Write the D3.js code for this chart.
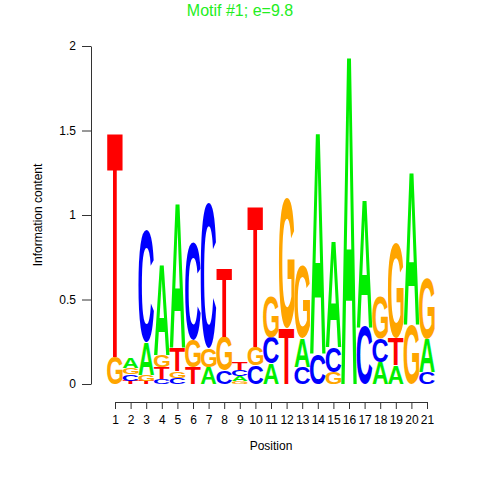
<!DOCTYPE html>
<html>
<head>
<meta charset="utf-8">
<script src="https://cdn.jsdelivr.net/npm/d3@7"></script>
<style>
body { margin: 0; background: #fff; }
</style>
</head>
<body>
<svg id="chart" width="480" height="480"></svg>
<script>
// information content per base at each motif position (bits)
const positions = d3.range(1, 22)
const bitsA = [0, 0.06, 0.195, 0.54, 0.86, 0, 0.10, 0, 0.03, 0, 0.12, 0, 0.17, 1.32, 0.63, 1.96, 0.76, 0.13, 0.11, 0.91, 0.20]
const bitsC = [0, 0.036, 0.66, 0.03, 0.035, 0.58, 0.86, 0.08, 0.04, 0.108, 0.155, 0, 0.10, 0.18, 0.15, 0, 0.34, 0.14, 0, 0, 0.07]
const bitsG = [0.16, 0.04, 0.035, 0.072, 0.04, 0.16, 0.11, 0.20, 0.015, 0.112, 0.24, 0.77, 0.43, 0, 0.07, 0, 0, 0.25, 0.56, 0.35, 0.355]
const bitsT = [1.34, 0.02, 0.02, 0.068, 0.14, 0.10, 0, 0.41, 0.045, 0.84, 0, 0.33, 0, 0, 0, 0, 0, 0, 0.16, 0, 0]
const yTicks = [0, 0.5, 1, 1.5, 2]

const bases = ["A", "C", "G", "T"]
const baseColor = {A: "#00ee00", C: "#0000ff", G: "#ffa500", T: "#ff0000"}
const title = "Motif #1; e=9.8"

const svg = d3.select("#chart")
const font = "'Liberation Sans', Arial, Helvetica, sans-serif"

const x = d3.scaleLinear().domain([1, 21]).range([115, 427])
const y = d3.scaleLinear().domain([0, 2]).range([384, 46])

// measure the ink box of each glyph so it can be stretched to fill its cell
const ctx = document.createElement("canvas").getContext("2d")
ctx.font = "bold 100px 'Liberation Sans'"
const ink = {}
bases.forEach(b => {
    const m = ctx.measureText(b)
    ink[b] = {
        left: m.actualBoundingBoxLeft,
        w: m.actualBoundingBoxLeft + m.actualBoundingBoxRight,
        asc: m.actualBoundingBoxAscent,
        h: m.actualBoundingBoxAscent + m.actualBoundingBoxDescent
    }
})

const series = {A: bitsA, C: bitsC, G: bitsG, T: bitsT}
let letters = []
positions.forEach((p, i) => {
    const col = bases.map(b => ({base: b, bits: series[b][i]}))
        .filter(d => d.bits > 0)
        .sort((a, b) => a.bits - b.bits)
    let acc = 0
    col.forEach(d => {
        letters.push({pos: p, base: d.base, y0: acc, y1: acc + d.bits})
        acc += d.bits
    })
})

svg.append("g").selectAll("text")
    .data(letters)
    .join("text")
    .attr("font-family", font)
    .attr("font-weight", "bold")
    .attr("font-size", 100)
    .attr("fill", d => baseColor[d.base])
    .attr("transform", d => {
        const g = ink[d.base]
        const x0 = x(d.pos - 0.5), w = x(d.pos + 0.5) - x0
        const top = y(d.y1), h = y(d.y0) - top
        return `translate(${x0},${top}) scale(${w / g.w},${h / g.h}) translate(${g.left},${g.asc})`
    })
    .text(d => d.base)

// axes
svg.append("g")
    .attr("transform", "translate(91,0)")
    .call(d3.axisLeft(y).tickValues(yTicks).tickFormat(d => d).tickSize(9).tickSizeOuter(0).tickPadding(6))
svg.append("g")
    .attr("transform", "translate(0,402)")
    .call(d3.axisBottom(x).tickValues(positions).tickSize(7).tickSizeOuter(0).tickPadding(6))

svg.selectAll(".domain, .tick line").attr("stroke", "#333")
svg.selectAll(".tick text").attr("font-family", font).attr("font-size", 12).attr("fill", "#000")

svg.append("text")
    .attr("x", 240).attr("y", 16)
    .attr("text-anchor", "middle")
    .attr("font-family", font).attr("font-size", 16)
    .attr("fill", "#22ee22")
    .text(title)

svg.append("text")
    .attr("x", 271).attr("y", 450)
    .attr("text-anchor", "middle")
    .attr("font-family", font).attr("font-size", 12)
    .text("Position")

svg.append("text")
    .attr("transform", "translate(42,215) rotate(-90)")
    .attr("text-anchor", "middle")
    .attr("font-family", font).attr("font-size", 12)
    .text("Information content")
</script>
</body>
</html>
